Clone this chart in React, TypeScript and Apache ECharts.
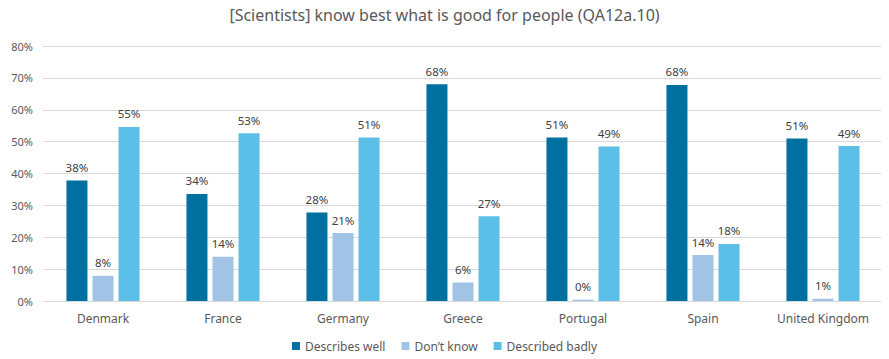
import React, { useEffect, useRef } from "react";
import * as echarts from "echarts";

const countries = ["Denmark", "France", "Germany", "Greece", "Portugal", "Spain", "United Kingdom"];
const describesWell = [37.8, 33.6, 27.8, 68.0, 51.3, 67.8, 51.0];
const dontKnow = [7.9, 13.9, 21.3, 5.8, 0.4, 14.4, 0.7];
const describedBadly = [54.6, 52.6, 51.3, 26.6, 48.5, 17.9, 48.6];
const seriesNames = ["Describes well", "Don\u2019t know", "Described badly"];
const colors = ["#0070A0", "#A1C3E6", "#5BBFE8"];

export default function App() {
  const ref = useRef<HTMLDivElement>(null);
  useEffect(() => {
    const chart = echarts.init(ref.current!, undefined, { renderer: "svg" });
    const font = "Noto Sans";
    const mk = (name: string, data: number[], color: string) => ({
      name,
      type: "bar",
      data,
      barWidth: 21,
      barGap: "24%",
      itemStyle: { color },
      label: {
        show: true,
        position: "top",
        distance: 7,
        color: "#404040",
        fontSize: 11.5,
        fontFamily: font,
        formatter: (p: any) => Math.round(p.value) + "%",
      },
    });
    chart.setOption({
      animation: false,
      textStyle: { fontFamily: font },
      title: {
        text: "[Scientists] know best what is good for people (QA12a.10)",
        left: "center",
        top: 2,
        textStyle: { color: "#595959", fontSize: 16, fontWeight: "normal", fontFamily: font },
      },
      legend: {
        bottom: 2,
        left: "center",
        itemWidth: 8,
        itemHeight: 8,
        itemGap: 16,
        icon: "rect",
        textStyle: { color: "#595959", fontSize: 12, fontFamily: font },
        data: seriesNames,
      },
      grid: { left: 43, right: 6, top: 46, bottom: 58, containLabel: false },
      xAxis: {
        type: "category",
        data: countries,
        axisLine: { show: true, lineStyle: { color: "#D9D9D9" } },
        axisTick: { show: false },
        axisLabel: { color: "#595959", fontSize: 12, margin: 11, interval: 0, fontFamily: font },
      },
      yAxis: {
        type: "value",
        min: 0,
        max: 80,
        interval: 10,
        axisLabel: { color: "#595959", fontSize: 11, formatter: "{value}%", margin: 10, fontFamily: font },
        splitLine: { lineStyle: { color: "#D9D9D9" } },
        axisLine: { show: false },
        axisTick: { show: false },
      },
      series: [
        mk(seriesNames[0], describesWell, colors[0]),
        mk(seriesNames[1], dontKnow, colors[1]),
        mk(seriesNames[2], describedBadly, colors[2]),
      ],
    });
    return () => chart.dispose();
  }, []);
  return <div ref={ref} style={{ width: 889, height: 359, marginLeft: -8, marginTop: -8 }} />;
}
